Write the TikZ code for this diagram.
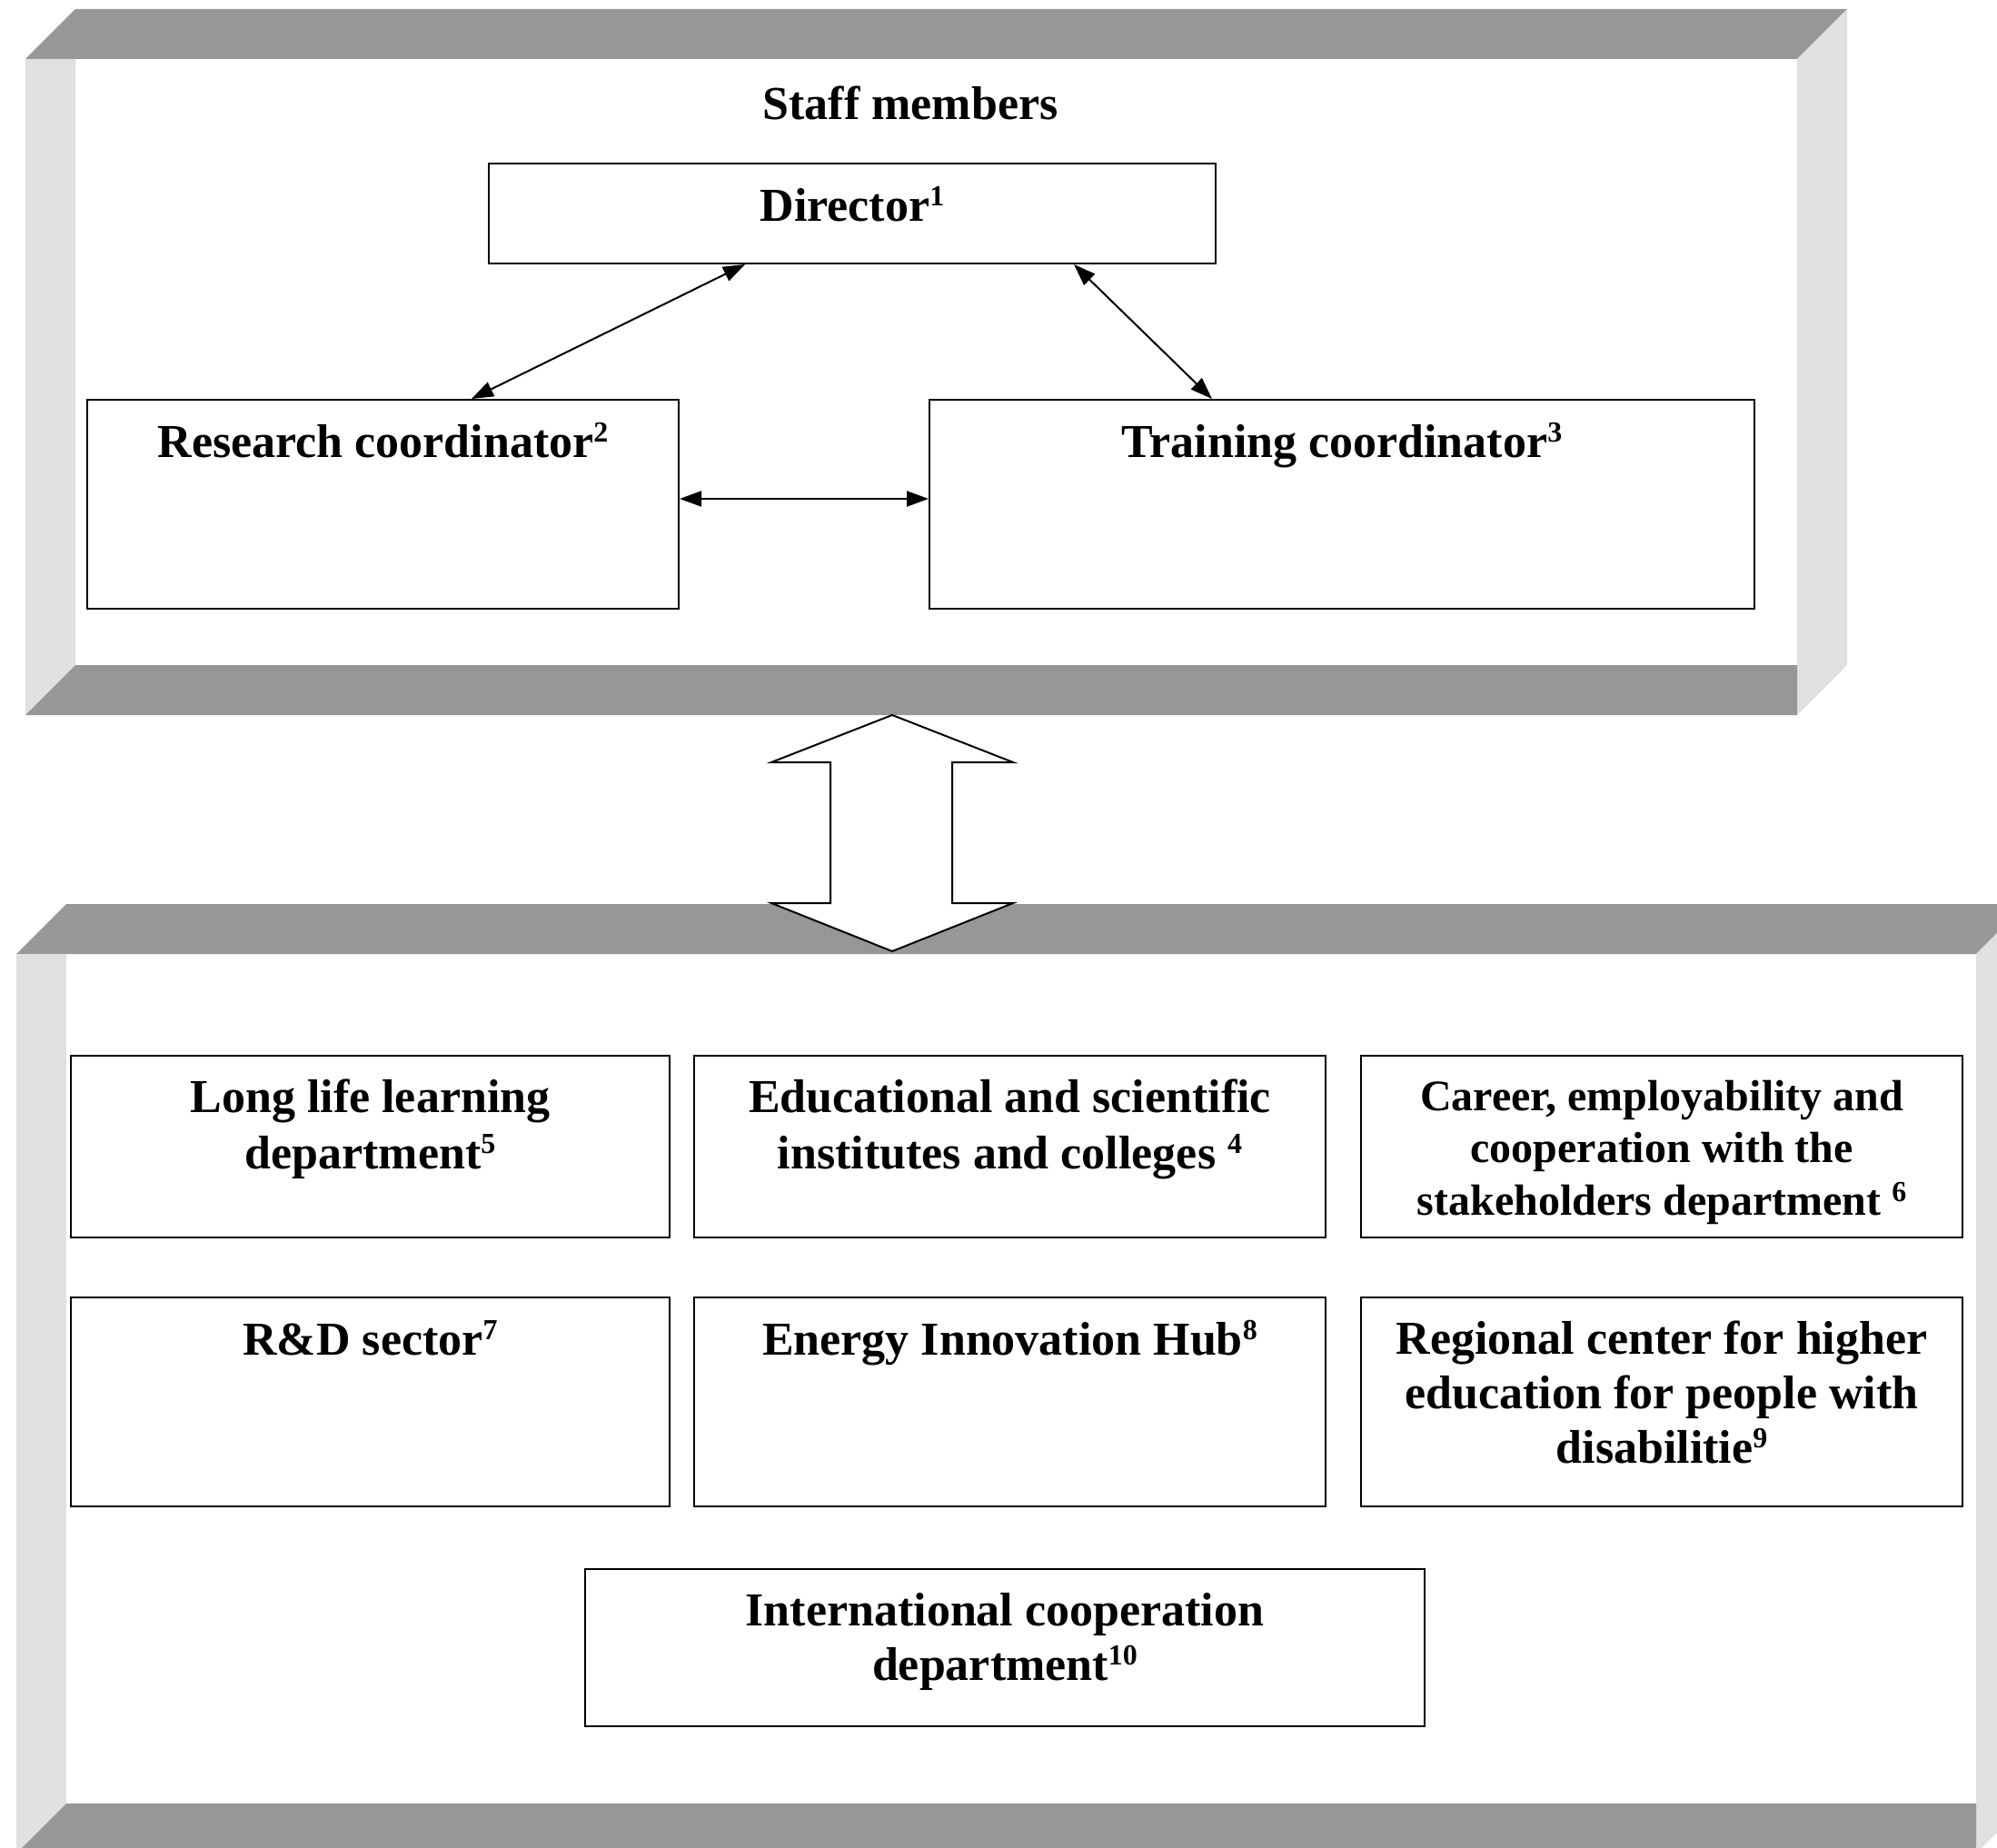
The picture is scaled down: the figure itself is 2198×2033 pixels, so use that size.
\documentclass[tikz,border=0pt]{standalone}
\usepackage{fontspec}
\setmainfont{Liberation Serif}
\usetikzlibrary{arrows.meta,calc}
\definecolor{framedark}{RGB}{151,151,151}
\definecolor{framelight}{RGB}{224,224,224}
\newcommand{\firstln}{\rule{0pt}{20pt}}
\newcommand{\supnum}[1]{\raisebox{0.32em}{\fontsize{16}{16}\selectfont #1}}
\begin{document}
\begin{tikzpicture}[x=0.5pt,y=-0.5pt,
  box/.style={draw=black,line width=1pt,fill=white,rectangle,inner sep=0pt,anchor=north west},
  lbl/.style={anchor=north,inner sep=0pt,align=center,font=\bfseries\fontsize{26}{31}\selectfont},
  lblsmall/.style={anchor=north,inner sep=0pt,align=center,font=\bfseries\fontsize{24}{28.75}\selectfont},
  lblmid/.style={anchor=north,inner sep=0pt,align=center,font=\bfseries\fontsize{26}{30}\selectfont},
  link/.style={line width=1pt,{Triangle[length=12pt,width=8.5pt]}-{Triangle[length=12pt,width=8.5pt]}},
  darkband/.style={fill=framedark},
  lightband/.style={fill=framelight},
  bigarrow/.style={draw=black,line width=1pt,fill=white,line join=miter}]
\useasboundingbox (0,0) rectangle (2198,2033);
\clip (0,0) rectangle (2198,2033);

% ---------- upper frame ----------
\fill[darkband]  (83,10) -- (2033,10) -- (1978,65) -- (28,65) -- cycle;
\fill[lightband] (28,65) -- (83,65) -- (83,732) -- (28,787) -- cycle;
\fill[lightband] (1978,65) -- (2033,10) -- (2033,732) -- (1978,787) -- cycle;
\fill[darkband]  (83,732) -- (1978,732) -- (1978,787) -- (28,787) -- cycle;

% ---------- lower frame ----------
\fill[darkband]  (73,995) -- (2230,995) -- (2175,1050) -- (18,1050) -- cycle;
\fill[lightband] (18,1050) -- (73,1050) -- (73,1985) -- (18,2040) -- cycle;
\fill[lightband] (2175,1050) -- (2230,995) -- (2230,1985) -- (2175,2040) -- cycle;
\fill[darkband]  (73,1985) -- (2175,1985) -- (2175,2040) -- (18,2040) -- cycle;

% ---------- staff members ----------
\node[lbl] (staff) at (1002,91) {\firstln Staff members};

\node[box,minimum width=400pt,minimum height=55pt] (dir) at (537,179) {};
\node[box,minimum width=325.5pt,minimum height=115pt] (rc) at (95,439) {};
\node[box,minimum width=454pt,minimum height=115pt] (tc) at (1022,439) {};

\node[lbl] (tdir) at ($(dir.north)+(0,24)$) {\firstln Director\supnum{1}};
\node[lbl] (trc) at ($(rc.north)+(0,24)$) {\firstln Research coordinator\supnum{2}};
\node[lbl] (ttc) at ($(tc.north)+(0,24)$) {\firstln Training coordinator\supnum{3}};

\draw[link] ($(dir.south west)+(283,0)$) -- ($(rc.north west)+(424,0)$);
\draw[link] ($(dir.south west)+(645,0)$) -- ($(tc.north west)+(312,0)$);
\draw[link] ($(rc.east)+(0,-6)$) -- ($(tc.west)+(0,-6)$);

% ---------- departments ----------
\node[box,minimum width=329.5pt,minimum height=100pt] (ll) at (77,1161) {};
\node[box,minimum width=347.5pt,minimum height=100pt] (ed) at (763,1161) {};
\node[box,minimum width=331pt,minimum height=100pt] (ca) at (1497,1161) {};
\node[box,minimum width=329.5pt,minimum height=115pt] (rd) at (77,1427) {};
\node[box,minimum width=347.5pt,minimum height=115pt] (en) at (763,1427) {};
\node[box,minimum width=331pt,minimum height=115pt] (rg) at (1497,1427) {};
\node[box,minimum width=462pt,minimum height=86.5pt] (ic) at (643,1726) {};

\node[lbl] (tll) at ($(ll.north)+(0,23)$) {\firstln Long life learning\\department\supnum{5}};
\node[lbl] (ted) at ($(ed.north)+(0,23)$) {\firstln Educational and scientific\\institutes and colleges \supnum{4}};
\node[lblsmall] (tca) at ($(ca.north)+(0,21)$) {\firstln Career, employability and\\cooperation with the\\stakeholders department \supnum{6}};
\node[lbl] (trd) at ($(rd.north)+(0,24)$) {\firstln R\&D sector\supnum{7}};
\node[lbl] (ten) at ($(en.north)+(0,24)$) {\firstln Energy Innovation Hub\supnum{8}};
\node[lblmid] (trg) at ($(rg.north)+(0,23)$) {\firstln Regional center for higher\\education for people with\\disabilitie\supnum{9}};
\node[lblmid] (tic) at ($(ic.north)+(0,23)$) {\firstln International cooperation\\department\supnum{10}};

% ---------- big double arrow ----------
\draw[bigarrow] (982,787) -- (1115,839) -- (1048,839) -- (1048,994) -- (1115,994)
  -- (982,1047) -- (849,994) -- (914,994) -- (914,839) -- (849,839) -- cycle;
\end{tikzpicture}
\end{document}
